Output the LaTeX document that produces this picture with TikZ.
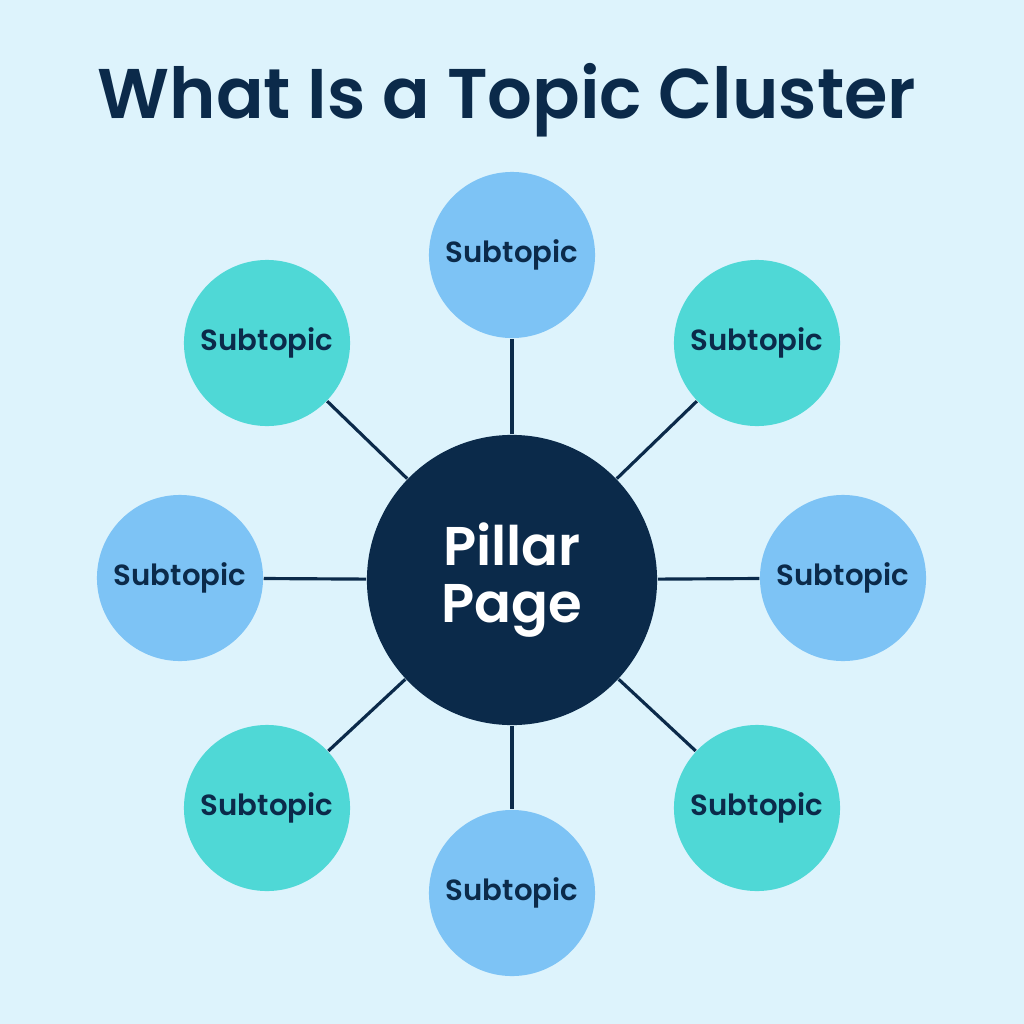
\documentclass[tikz,border=0pt]{standalone}
\usepackage{fontspec}
\setmainfont{Poppins}[BoldFont={* SemiBold}]
\definecolor{bgblue}{HTML}{DDF3FC}
\definecolor{subblue}{HTML}{7DC3F5}
\definecolor{subteal}{HTML}{4FD8D6}
\definecolor{navy}{HTML}{0B2A4A}
\tikzset{
  sub/.style={circle, minimum size=1.66cm, inner sep=0pt, text=navy,
    font=\fontsize{8.3}{10}\selectfont\bfseries},
  pillar/.style={circle, fill=navy, minimum size=2.9cm, inner sep=0pt, text=white,
    align=center, font=\fontsize{15.5}{17}\selectfont\bfseries},
  link/.style={navy, line width=0.9pt}
}
\begin{document}
\begin{tikzpicture}[x=0.01cm,y=-0.01cm]
% Hintergrund
\fill[bgblue] (0,0) rectangle (1024,1024);
\useasboundingbox (0,0) rectangle (1024,1024);
% Titel
\node[text=navy, font=\fontsize{20}{24}\selectfont\bfseries] (title) at (507,100) {What Is a Topic Cluster};
% Mitte
\node[pillar] (pillar) at (512,580) {Pillar\\[-1pt]Page};
% Unterthemen
\node[sub, fill=subblue] (s1) at (512,255) {Subtopic};
\node[sub, fill=subteal] (s2) at (757,343) {Subtopic};
\node[sub, fill=subblue] (s3) at (843,578) {Subtopic};
\node[sub, fill=subteal] (s4) at (757,808) {Subtopic};
\node[sub, fill=subblue] (s5) at (512,893) {Subtopic};
\node[sub, fill=subteal] (s6) at (267,808) {Subtopic};
\node[sub, fill=subblue] (s7) at (180,578) {Subtopic};
\node[sub, fill=subteal] (s8) at (267,343) {Subtopic};
% Verbindungen
\foreach \s in {s1,s2,s3,s4,s5,s6,s7,s8} {
    \draw[link] (pillar) -- (\s);
}
\end{tikzpicture}
\end{document}
